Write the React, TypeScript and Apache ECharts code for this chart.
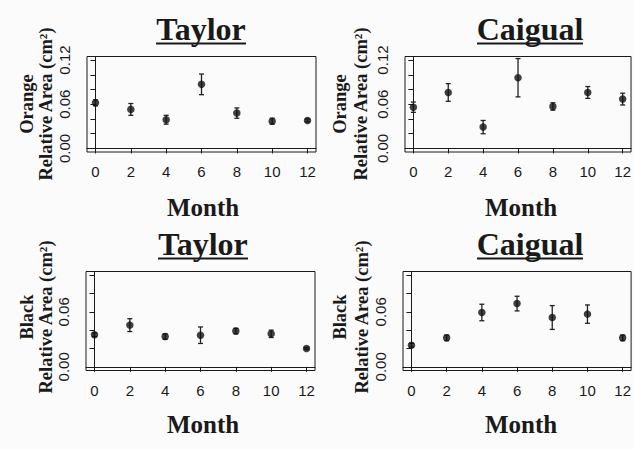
import React, { useEffect, useRef } from "react";
import * as echarts from "echarts";

const months = [0, 2, 4, 6, 8, 10, 12];
const panelTitles = ["Taylor", "Caigual", "Taylor", "Caigual"];
const rowNames = ["Orange", "Black"];
const yName = "Relative Area (cm²)";
const xName = "Month";

const taylorOrange = [0.062, 0.053, 0.039, 0.087, 0.048, 0.037, 0.038];
const taylorOrangeErr = [0.004, 0.008, 0.006, 0.014, 0.007, 0.004, 0.002];
const caigualOrange = [0.056, 0.076, 0.029, 0.096, 0.057, 0.076, 0.067];
const caigualOrangeErr = [0.007, 0.012, 0.009, 0.026, 0.005, 0.008, 0.008];
const taylorBlack = [0.035, 0.0455, 0.033, 0.0345, 0.039, 0.036, 0.02];
const taylorBlackErr = [0.002, 0.007, 0.003, 0.009, 0.003, 0.004, 0.001];
const caigualBlack = [0.0236, 0.0316, 0.0593, 0.069, 0.0538, 0.0575, 0.0316];
const caigualBlackErr = [0.002, 0.003, 0.009, 0.008, 0.013, 0.01, 0.003];

const topTicks = [0, 0.02, 0.04, 0.06, 0.08, 0.1, 0.12];
const topLabels = [0, 0.06, 0.12];
const bottomTicks = [0, 0.02, 0.04, 0.06, 0.08, 0.1];
const bottomLabels = [0, 0.06];

const INK = "#1a1a1a";
const SERIF = "'Liberation Serif', 'DejaVu Serif', serif";
const SANS = "'Liberation Sans', Arial, sans-serif";

export default function App() {
  const ref = useRef<HTMLDivElement>(null);
  useEffect(() => {
    if (!ref.current) return;
    const chart = echarts.init(ref.current, null, { renderer: "svg" });

    const grids = [
      { left: 87, top: 56.5, width: 229, height: 95.5 },
      { left: 405, top: 56.5, width: 228, height: 95.5 },
      { left: 86, top: 271.5, width: 229, height: 99 },
      { left: 403, top: 271.5, width: 229, height: 99 },
    ];
    const values = [taylorOrange, caigualOrange, taylorBlack, caigualBlack];
    const errs = [taylorOrangeErr, caigualOrangeErr, taylorBlackErr, caigualBlackErr];

    const xAxes = grids.map((_, i) => ({
      gridIndex: i,
      type: "value",
      min: -0.48,
      max: 12.48,
      axisLine: { show: true, lineStyle: { color: INK, width: 1 } },
      axisTick: { show: true, length: 5, customValues: months, lineStyle: { color: INK } },
      axisLabel: {
        customValues: months,
        margin: 12,
        fontSize: 15,
        fontFamily: SANS,
        color: INK,
        formatter: (v: number) => String(v),
      },
      splitLine: { show: false },
    }));

    const yAxes = grids.map((_, i) => {
      const top = i < 2;
      return {
        gridIndex: i,
        type: "value",
        min: top ? -0.0048 : -0.004,
        max: top ? 0.1248 : 0.104,
        axisLine: { show: true, lineStyle: { color: INK, width: 1 } },
        axisTick: { show: true, length: 5, customValues: top ? topTicks : bottomTicks, lineStyle: { color: INK } },
        axisLabel: {
          customValues: top ? topLabels : bottomLabels,
          rotate: 90,
          margin: 15,
          fontSize: 15,
          fontFamily: SANS,
          color: INK,
          formatter: (v: number) => v.toFixed(2),
        },
        splitLine: { show: false },
      };
    });

    const series: any[] = [];
    grids.forEach((_, i) => {
      series.push({
        type: "custom",
        xAxisIndex: i,
        yAxisIndex: i,
        data: months.map((m, k) => [m, values[i][k] - errs[i][k], values[i][k] + errs[i][k]]),
        encode: { x: 0, y: [1, 2] },
        renderItem: (params: any, api: any) => {
          const lo = api.coord([api.value(0), api.value(1)]);
          const hi = api.coord([api.value(0), api.value(2)]);
          const cap = 2.5;
          const st = { stroke: "#222", lineWidth: 1.3 };
          return {
            type: "group",
            children: [
              { type: "line", shape: { x1: lo[0], y1: lo[1], x2: hi[0], y2: hi[1] }, style: st },
              { type: "line", shape: { x1: lo[0] - cap, y1: lo[1], x2: lo[0] + cap, y2: lo[1] }, style: st },
              { type: "line", shape: { x1: hi[0] - cap, y1: hi[1], x2: hi[0] + cap, y2: hi[1] }, style: st },
            ],
          };
        },
        z: 2,
      });
      series.push({
        type: "scatter",
        xAxisIndex: i,
        yAxisIndex: i,
        data: months.map((m, k) => [m, values[i][k]]),
        symbol: "circle",
        symbolSize: 7.5,
        itemStyle: { color: "#111" },
        z: 3,
      });
    });

    const titlePos = [
      { x: 201, y: 29, u1: 156, u2: 246, uy: 43.5 },
      { x: 530, y: 29, u1: 477, u2: 583, uy: 43.5 },
      { x: 203, y: 244, u1: 158, u2: 248, uy: 258.5 },
      { x: 530, y: 244, u1: 477, u2: 583, uy: 258.5 },
    ];
    const graphics: any[] = [];
    titlePos.forEach((p, i) => {
      graphics.push({
        type: "text",
        x: p.x,
        y: p.y,
        style: {
          text: panelTitles[i],
          font: `bold 32px ${SERIF}`,
          fill: INK,
          textAlign: "center",
          textVerticalAlign: "middle",
        },
      });
      graphics.push({
        type: "line",
        shape: { x1: p.u1, y1: p.uy, x2: p.u2, y2: p.uy },
        style: { stroke: INK, lineWidth: 2 },
      });
    });
    const monthPos = [
      { x: 203, y: 207 },
      { x: 521, y: 207 },
      { x: 203, y: 424 },
      { x: 521, y: 424 },
    ];
    monthPos.forEach((p) => {
      graphics.push({
        type: "text",
        x: p.x,
        y: p.y,
        style: {
          text: xName,
          font: `bold 25px ${SERIF}`,
          fill: INK,
          textAlign: "center",
          textVerticalAlign: "middle",
        },
      });
    });
    const yNamePos = [
      { x: 27, cx: 46, y1: 104, y2: 104, row: 0 },
      { x: 340, cx: 361, y1: 104, y2: 104, row: 0 },
      { x: 27, cx: 46, y1: 317, y2: 317, row: 1 },
      { x: 340, cx: 362, y1: 317, y2: 317, row: 1 },
    ];
    yNamePos.forEach((p) => {
      graphics.push({
        type: "text",
        x: p.x,
        y: p.y1,
        rotation: Math.PI / 2,
        style: {
          text: rowNames[p.row],
          font: `bold 18.5px ${SERIF}`,
          fill: INK,
          textAlign: "center",
          textVerticalAlign: "middle",
        },
      });
      graphics.push({
        type: "text",
        x: p.cx,
        y: p.y2,
        rotation: Math.PI / 2,
        style: {
          text: yName,
          font: `bold 18.5px ${SERIF}`,
          fill: INK,
          textAlign: "center",
          textVerticalAlign: "middle",
        },
      });
    });

    chart.setOption({
      animation: false,
      backgroundColor: "#fbfbfb",
      grid: grids.map((g) => ({ ...g, show: true, borderColor: INK, borderWidth: 1, backgroundColor: "transparent" })),
      xAxis: xAxes,
      yAxis: yAxes,
      series,
      graphic: graphics,
    });
    return () => chart.dispose();
  }, []);
  return <div ref={ref} style={{ position: "absolute", left: 0, top: 0, width: 634, height: 449 }} />;
}
